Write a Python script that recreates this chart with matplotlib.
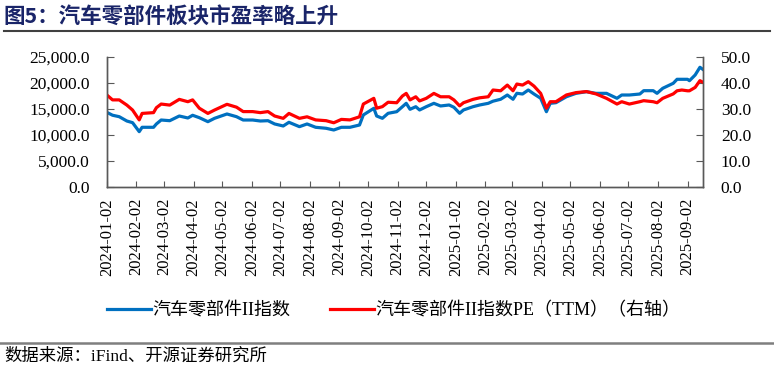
import matplotlib.pyplot as plt
import matplotlib.dates as mdates
from matplotlib.lines import Line2D
import pandas as pd

plt.rcParams['font.family'] = ['Liberation Serif', 'Noto Sans CJK SC']

dates = [
    '2024-01-02', '2024-01-08', '2024-01-15', '2024-01-23', '2024-01-29', '2024-02-05',
    '2024-02-08', '2024-02-20', '2024-02-23', '2024-02-28', '2024-03-08', '2024-03-18',
    '2024-03-27', '2024-04-01', '2024-04-08', '2024-04-17', '2024-04-24', '2024-05-07',
    '2024-05-17', '2024-05-24', '2024-06-03', '2024-06-11', '2024-06-19', '2024-06-26',
    '2024-07-05', '2024-07-11', '2024-07-22', '2024-07-30', '2024-08-08', '2024-08-19',
    '2024-08-27', '2024-09-04', '2024-09-13', '2024-09-23', '2024-09-27', '2024-10-08',
    '2024-10-11', '2024-10-17', '2024-10-23', '2024-11-01', '2024-11-07', '2024-11-11',
    '2024-11-15', '2024-11-21', '2024-11-25', '2024-12-02', '2024-12-10', '2024-12-17',
    '2024-12-26', '2024-12-31', '2025-01-06', '2025-01-10', '2025-01-20', '2025-01-27',
    '2025-02-05', '2025-02-10', '2025-02-18', '2025-02-25', '2025-03-03', '2025-03-07',
    '2025-03-13', '2025-03-19', '2025-03-25', '2025-04-01', '2025-04-07', '2025-04-11',
    '2025-04-17', '2025-04-28', '2025-05-08', '2025-05-19', '2025-05-29', '2025-06-09',
    '2025-06-20', '2025-06-25', '2025-07-03', '2025-07-14', '2025-07-18', '2025-07-28',
    '2025-08-01', '2025-08-07', '2025-08-18', '2025-08-22', '2025-08-27', '2025-09-02',
    '2025-09-04', '2025-09-10', '2025-09-15', '2025-09-18',
]

index_vals = [
    14360, 13800, 13520, 12690, 12370, 10640,
    11480, 11480, 12120, 12880, 12750, 13650,
    13270, 13790, 13330, 12560, 13210, 14040,
    13520, 12880, 12880, 12690, 12750, 12120,
    11730, 12440, 11600, 12120, 11480, 11290,
    10960, 11480, 11480, 11920, 13850, 15130,
    13650, 13210, 14170, 14480, 15440, 16090,
    14940, 15440, 14810, 15440, 16090, 15580,
    15770, 15330, 14170, 14810, 15440, 15770,
    16090, 16500, 16870, 17690, 16870, 18020,
    17880, 18650, 17880, 17060, 14480, 16090,
    16210, 17360, 18010, 18330, 18010, 18010,
    17060, 17690, 17690, 17880, 18520, 18520,
    18010, 18980, 19940, 20710, 20710, 20710,
    20440, 21540, 23020, 22630,
]

pe_vals = [
    35.4, 33.5, 33.5, 31.5, 29.6, 25.8,
    28.3, 28.6, 30.5, 31.9, 31.5, 33.7,
    32.8, 33.5, 30.3, 28.3, 29.6, 31.8,
    30.7, 29.0, 29.0, 28.6, 29.0, 27.3,
    26.4, 28.3, 26.4, 27.0, 25.8, 25.5,
    24.7, 26.0, 25.8, 27.0, 31.9, 34.1,
    30.3, 30.9, 32.6, 32.4, 35.0, 36.0,
    33.5, 34.7, 33.1, 34.1, 36.0, 34.7,
    34.7, 33.5, 31.2, 32.4, 33.7, 34.3,
    34.7, 37.3, 37.0, 39.2, 37.0, 39.6,
    39.2, 40.5, 38.8, 36.0, 30.3, 32.8,
    32.8, 35.4, 36.3, 36.7, 35.8, 34.1,
    31.9, 32.8, 31.9, 32.8, 33.2, 32.8,
    32.4, 34.1, 35.8, 37.0, 37.3, 37.0,
    37.0, 38.3, 40.9, 40.3,
]

x = pd.to_datetime(dates)
ticks = pd.date_range('2024-01-01', '2025-09-02', freq='MS') + pd.Timedelta(days=1)

fig = plt.figure(figsize=(7.74, 3.73), dpi=100)
ax = fig.add_axes([0.138, 0.4987, 0.770, 0.3485])
ax2 = ax.twinx()

l1, = ax.plot(x, index_vals, color='#0070C0', lw=2.3, label='汽车零部件II指数')
l2, = ax2.plot(x, pe_vals, color='#FF0000', lw=2.3, label='汽车零部件II指数PE（TTM）（右轴）')

ax.set_ylim(0, 25000)
ax2.set_ylim(0, 50)
ax.set_yticks(range(0, 25001, 5000))
ax2.set_yticks(range(0, 51, 10))
ax.yaxis.set_major_formatter(plt.FuncFormatter(lambda v, p: '{:,.1f}'.format(v)))
ax2.yaxis.set_major_formatter(plt.FuncFormatter(lambda v, p: '{:.1f}'.format(v)))
ax.set_xlim(x[0], x[-1])
ax.set_xticks(ticks)
ax.xaxis.set_major_formatter(mdates.DateFormatter('%Y-%m-%d'))

for a in (ax, ax2):
    a.spines['top'].set_visible(False)
    for s in ('left', 'right', 'bottom'):
        a.spines[s].set_color('#595959')
        a.spines[s].set_linewidth(1.0)
ax.tick_params(axis='y', direction='in', length=5, color='#595959', labelsize=12.5, pad=12)
ax2.tick_params(axis='y', direction='in', length=5, color='#595959', labelsize=12.5, pad=13)
ax.tick_params(axis='x', direction='in', length=4, color='#595959', labelsize=12, pad=8,
               labelrotation=90)

fig.legend(handles=[l1, l2], loc='center', bbox_to_anchor=(0.509, 0.168), ncol=2,
           frameon=False, fontsize=13, handlelength=2.4, handletextpad=0.1,
           columnspacing=2.2)

fig.text(0.005, 0.957, '图5：汽车零部件板块市盈率略上升', fontsize=15.5, fontweight='bold',
         color='#1a2569', va='center', ha='left', family=['Noto Sans CJK SC'])
fig.add_artist(Line2D([0.005, 0.995], [0.917, 0.917], color='#404040', lw=1.5))
fig.add_artist(Line2D([0.0, 1.0], [0.080, 0.080], color='#7f7f7f', lw=1.8))
fig.text(0.005, 0.045, '数据来源：iFind、开源证券研究所', fontsize=12.5, va='center', ha='left')

fig.savefig('out.png', dpi=100)
